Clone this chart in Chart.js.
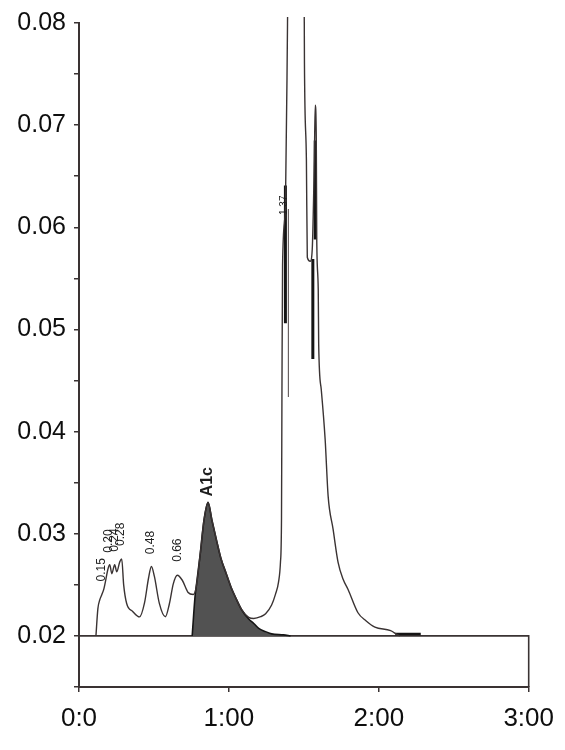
<!DOCTYPE html>
<html>
<head>
<meta charset="utf-8">
<title>Chromatogramme HbA1c</title>
<script src="https://cdn.jsdelivr.net/npm/chart.js@4.4.1/dist/chart.umd.min.js"></script>
<style>
    html, body { margin: 0; padding: 0; background: #ffffff; }
    #chromato { display: block; }
</style>
</head>
<body>
<canvas id="chromato" width="565" height="750"></canvas>
<script>
// temps de retention (min) / signal du detecteur
const traceTime = [0.113, 0.126, 0.139, 0.152, 0.166, 0.179, 0.192, 0.205, 0.219, 0.238, 0.252, 0.272, 0.285, 0.298,
    0.318, 0.358, 0.404, 0.437, 0.464, 0.483, 0.503, 0.536, 0.576, 0.603, 0.629, 0.656, 0.689, 0.728, 0.762,
    0.781, 0.808, 0.834, 0.861, 0.887, 0.921, 0.947, 0.980, 1.013, 1.046, 1.086, 1.132, 1.166, 1.212, 1.245,
    1.285, 1.311, 1.331, 1.344, 1.351, 1.354, 1.358, 1.377, 1.391, 1.40, 1.49, 1.503, 1.504, 1.517, 1.523,
    1.543, 1.556, 1.570, 1.576, 1.583, 1.586, 1.596, 1.599, 1.616, 1.642, 1.662, 1.695, 1.728, 1.762, 1.795,
    1.861, 1.914, 1.974, 2.079, 2.126, 2.14];
const traceSignal = [0.0200, 0.02267, 0.02355, 0.02403, 0.02461, 0.02551, 0.02648, 0.02697, 0.02609, 0.02697, 0.02628, 0.02725, 0.02754, 0.02500,
    0.02317, 0.0224, 0.02186, 0.02323, 0.02567, 0.0268, 0.02582, 0.02318, 0.02188, 0.02315, 0.0251, 0.02594, 0.02545, 0.02425, 0.02405,
    0.02471, 0.02793, 0.03135, 0.03307, 0.03132, 0.02914, 0.02758, 0.02619, 0.02482, 0.02372, 0.02254, 0.02182, 0.02171, 0.02188, 0.02217,
    0.02302, 0.02409, 0.02526, 0.02721, 0.03161, 0.04428, 0.0563, 0.0619, 0.0799, 0.095, 0.095, 0.0798, 0.0761, 0.06663, 0.05707,
    0.05668, 0.05785, 0.06663, 0.07196, 0.06854, 0.05898, 0.0539, 0.04854, 0.04414, 0.03925, 0.03369, 0.03045, 0.02723, 0.02555, 0.02455,
    0.02227, 0.02148, 0.02086, 0.02052, 0.0201, 0.0200];

// pic A1c integre (zone grisee)
const a1cTime = [0.755, 0.775, 0.781, 0.808, 0.834, 0.861, 0.887, 0.921, 0.947, 0.980, 1.013, 1.046, 1.086, 1.132,
    1.166, 1.199, 1.245, 1.285, 1.364, 1.411];
const a1cSignal = [0.0200, 0.0240, 0.02471, 0.02793, 0.03135, 0.03307, 0.03132, 0.02914, 0.02758, 0.02619, 0.02482, 0.02372, 0.02254, 0.02165,
    0.02122, 0.02073, 0.02042, 0.0202, 0.0201, 0.0200];

// cadre de la ligne de base
const boxTime = [0, 3, 3];
const boxSignal = [0.02, 0.02, 0.015];

// trait epais sur la ligne de base apres le pic principal
const tailMarkTime = [2.11, 2.28];
const tailMarkSignal = [0.0202, 0.0202];

// traits verticaux des pics principaux
const markTime = [1.377, 1.397, 1.576, 1.56];
const markHigh = [0.0641, 0.0618, 0.0685, 0.0569];
const markLow = [0.0506, 0.0434, 0.0588, 0.0471];

// etiquettes des pics
const peakTime = [0.15, 0.20, 0.24, 0.28, 0.48, 0.66, 0.86, 1.37];
const peakName = ['0.15', '0.20', '0.24', '0.28', '0.48', '0.66', 'A1c', '1.37'];

// graduations
const xTickLabels = ['0:0', '1:00', '2:00', '3:00'];
const yTickValues = [0.02, 0.03, 0.04, 0.05, 0.06, 0.07, 0.08];
const yTickLabels = ['0.02', '0.03', '0.04', '0.05', '0.06', '0.07', '0.08'];

const ink = '#3a3333';
const font = '"Liberation Sans", Arial, sans-serif';

function toPoints(xs, ys){
    return xs.map(function(x, i){ return { x: x, y: ys[i] }; });
}

function signalAt(t){
    for (let i = 1; i < traceTime.length; i++) {
        if (traceTime[i] >= t) {
            const k = (t - traceTime[i - 1]) / (traceTime[i] - traceTime[i - 1]);
            return traceSignal[i - 1] + k * (traceSignal[i] - traceSignal[i - 1]);
        }
    }
    return traceSignal[traceSignal.length - 1];
}

// ecrit les temps de retention a la verticale au dessus des pics
const peakLabels = {
    id: 'peakLabels',
    afterDatasetsDraw(chart){
        const ctx = chart.ctx;
        const xs = chart.scales.x;
        const ys = chart.scales.y;
        peakName.forEach(function(name, i){
            const isA1c = name === 'A1c';
            const px = xs.getPixelForValue(peakTime[i]);
            const py = ys.getPixelForValue(isA1c ? Math.max.apply(null, a1cSignal) : signalAt(peakTime[i])) - (isA1c ? 6 : 14);
            ctx.save();
            ctx.translate(px, py);
            ctx.rotate(-Math.PI / 2);
            ctx.font = isA1c ? 'bold 16px ' + font : (i === peakName.length - 1 ? '10px ' : '12px ') + font;
            ctx.fillStyle = '#1e1e1e';
            ctx.textAlign = 'left';
            ctx.textBaseline = 'middle';
            ctx.fillText(name, 0, 0);
            ctx.restore();
        });
    }
};

const clipBox = { top: 6, bottom: 2, left: 2, right: 2 };

const datasets = [
    {
        label: 'signal',
        data: toPoints(traceTime, traceSignal),
        borderColor: ink,
        borderWidth: 1.4,
        pointRadius: 0,
        cubicInterpolationMode: 'monotone',
        fill: false,
        clip: clipBox,
        order: 0
    },
    {
        label: 'A1c',
        data: toPoints(a1cTime, a1cSignal),
        borderColor: '#151515',
        borderWidth: 1.6,
        backgroundColor: '#525252',
        pointRadius: 0,
        cubicInterpolationMode: 'monotone',
        fill: { value: 0.02 },
        clip: clipBox,
        order: 3
    },
    {
        label: 'cadre',
        data: toPoints(boxTime, boxSignal),
        borderColor: ink,
        borderWidth: 1.6,
        pointRadius: 0,
        fill: false,
        clip: clipBox,
        order: 4
    },
    {
        label: 'fin',
        data: toPoints(tailMarkTime, tailMarkSignal),
        borderColor: '#151515',
        borderWidth: 2.5,
        pointRadius: 0,
        fill: false,
        clip: clipBox,
        order: 2
    }
];

markTime.forEach(function(t, i){
    datasets.push({
        label: 'trait ' + i,
        data: [{ x: t, y: markHigh[i] }, { x: t, y: markLow[i] }],
        borderColor: i === 1 ? '#6a6262' : '#151515',
        borderWidth: i === 1 ? 1.2 : 3,
        pointRadius: 0,
        fill: false,
        clip: clipBox,
        order: 1
    });
});

const chromato = new Chart(document.getElementById('chromato').getContext('2d'), {
    type: 'line',
    data: { datasets: datasets },
    options: {
        responsive: false,
        animation: false,
        devicePixelRatio: 1,
        layout: { padding: { top: 20, right: 33, bottom: 0, left: 0 } },
        plugins: {
            legend: { display: false },
            tooltip: { enabled: false }
        },
        scales: {
            x: {
                type: 'linear',
                min: 0,
                max: 3,
                afterFit: function(scale){ scale.height = 63; },
                ticks: {
                    stepSize: 1,
                    padding: 11,
                    color: '#0e0e0e',
                    font: { family: font, size: 26 },
                    maxRotation: 0,
                    callback: function(value){ return xTickLabels[Math.round(value)]; }
                },
                grid: { drawOnChartArea: false, tickLength: 5, color: ink, lineWidth: 1.5 },
                border: { color: ink, width: 2 }
            },
            y: {
                type: 'linear',
                min: 0.015,
                max: 0.08,
                afterFit: function(scale){ scale.width = 79; },
                ticks: {
                    stepSize: 0.005,
                    padding: 8,
                    color: '#0e0e0e',
                    font: { family: font, size: 25 },
                    callback: function(value){
                        const i = yTickValues.findIndex(function(v){ return Math.abs(v - value) < 1e-6; });
                        return i >= 0 ? yTickLabels[i] : '';
                    }
                },
                grid: { drawOnChartArea: false, tickLength: 5, color: ink, lineWidth: 1.5 },
                border: { color: ink, width: 2 }
            }
        }
    },
    plugins: [peakLabels]
});
</script>
</body>
</html>
